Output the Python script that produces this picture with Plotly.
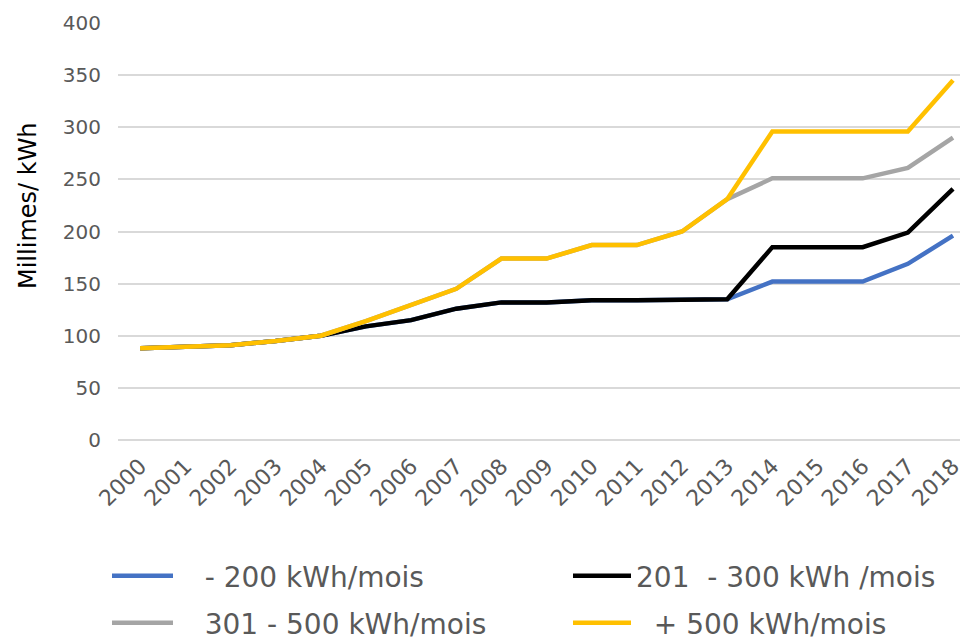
import plotly.graph_objects as go

# =========================================
# DATA
# =========================================
YEARS = list(range(2000, 2019))

TRANCHE_200 = [88, 90, 91, 95, 100, 109, 115, 126, 132, 132, 134, 134, 135, 135,
               152, 152, 152, 169, 196]
TRANCHE_300 = [88, 90, 91, 95, 100, 109, 115, 126, 132, 132, 134, 134, 135, 135,
               185, 185, 185, 199, 241]
TRANCHE_500 = [88, 90, 91, 95, 100, 114, 129, 145, 174, 174, 187, 187, 200, 231,
               251, 251, 251, 261, 290]
TRANCHE_PLUS = [88, 90, 91, 95, 100, 114, 129, 145, 174, 174, 187, 187, 200, 231,
                296, 296, 296, 296, 345]

NAMES = ["- 200 kWh/mois", "201  - 300 kWh /mois", "301 - 500 kWh/mois", "+ 500 kWh/mois"]

# =========================================
# STYLE
# =========================================
COLORS = ["#4472C4", "#000000", "#A5A5A5", "#FFC000"]
FONT_FAMILY = "DejaVu Sans"
TEXT_COLOR = "#595959"
GRID_COLOR = "#d9d9d9"

PLOT_LEFT, PLOT_RIGHT, PLOT_TOP, PLOT_BOTTOM = 118, 960, 23, 440
NBSP = "\u00a0"


def px_x(px):
    return (px - PLOT_LEFT) / (PLOT_RIGHT - PLOT_LEFT)


def px_y(py):
    return (PLOT_BOTTOM - py) / (PLOT_BOTTOM - PLOT_TOP)


fig = go.Figure()

series = [TRANCHE_200, TRANCHE_300, TRANCHE_500, TRANCHE_PLUS]
legend_ids = ["legend", "legend2", "legend3", "legend4"]
# (left px, row centre px, symbol width, leading gap)
legend_pos = [(107, 576, 61, 3), (568, 576, 58, 0), (107, 623, 61, 3), (568, 623, 58, 2)]

for values, name, color, leg, pos in zip(series, NAMES, COLORS, legend_ids, legend_pos):
    fig.add_trace(go.Scatter(
        x=YEARS,
        y=values,
        mode="lines",
        name=NBSP * pos[3] + name.replace("  ", NBSP + " "),
        line=dict(color=color, width=4.5),
        legend=leg
    ))

legend_layout = {}
for leg, (lx, ly, iw, _) in zip(legend_ids, legend_pos):
    legend_layout[leg] = dict(
        visible=True,
        orientation="h",
        xanchor="left",
        yanchor="middle",
        x=px_x(lx),
        y=px_y(ly),
        font=dict(family=FONT_FAMILY, size=28, color=TEXT_COLOR),
        bgcolor="rgba(0,0,0,0)",
        itemwidth=iw
    )

fig.update_layout(
    width=960,
    height=638,
    showlegend=True,
    paper_bgcolor="white",
    plot_bgcolor="white",
    font=dict(family=FONT_FAMILY, color=TEXT_COLOR),
    margin=dict(l=PLOT_LEFT, r=960 - PLOT_RIGHT, t=PLOT_TOP, b=638 - PLOT_BOTTOM,
                autoexpand=False),
    **legend_layout
)

fig.add_annotation(
    text="Millimes/ kWh",
    textangle=-90,
    xref="paper", yref="paper",
    x=px_x(28), y=px_y(206),
    xanchor="center", yanchor="middle",
    showarrow=False,
    font=dict(family=FONT_FAMILY, size=24, color="#000000")
)

fig.update_xaxes(
    range=[1999.51, 2018.155],
    tickvals=YEARS,
    ticktext=[str(y) for y in YEARS],
    tickangle=-45,
    tickfont=dict(size=22, color=TEXT_COLOR),
    ticklabelstandoff=8,
    ticklabeloverflow="allow",
    showgrid=False,
    zeroline=False,
    showline=False,
    automargin=False
)

fig.update_yaxes(
    range=[0, 400],
    dtick=50,
    tickfont=dict(size=20, color=TEXT_COLOR),
    ticks="",
    ticklabelstandoff=16,
    showgrid=True,
    gridcolor=GRID_COLOR,
    gridwidth=1.5,
    zeroline=True,
    zerolinecolor=GRID_COLOR,
    zerolinewidth=1.5,
    automargin=False
)

fig.write_html(
    "out.html",
    config={"displayModeBar": False},
    post_script="document.body.style.margin = '0';"
)
